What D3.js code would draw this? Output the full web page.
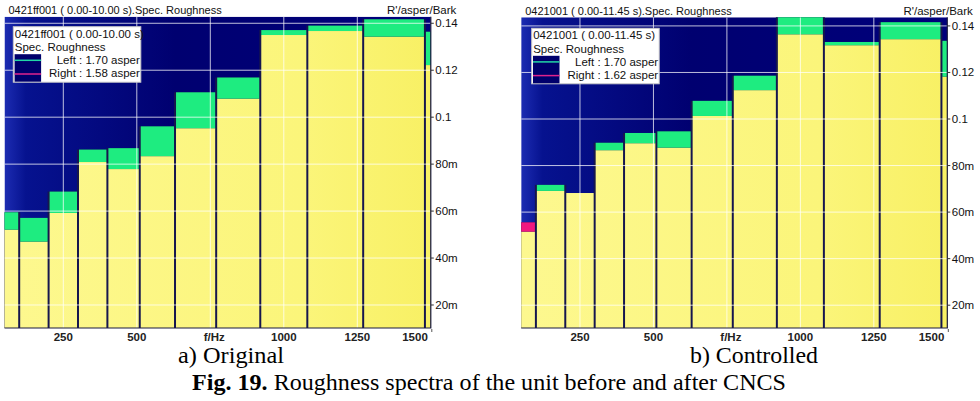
<!DOCTYPE html>
<html>
<head>
<meta charset="utf-8">
<script src="https://cdn.jsdelivr.net/npm/d3@7"></script>
<style>
  html, body { margin: 0; padding: 0; background: #fff; }
  svg { display: block; }
  .ui { font-family: "Liberation Sans", Arial, sans-serif; fill: #111; }
  .cap { font-family: "Liberation Serif", "Times New Roman", serif; fill: #000; }
</style>
</head>
<body>
<svg id="chart" width="980" height="401"></svg>
<script>
// Bark band edges (Hz) -- last band is clipped at 1500 Hz
const bandEdges = [0, 100, 200, 300, 400, 510, 630, 770, 920, 1080, 1270, 1480, 1720];

// specific roughness per band, asper/Bark
const originalLeft   = [0.0595, 0.0571, 0.0683, 0.0862, 0.0868, 0.0961, 0.1106, 0.1169, 0.1371, 0.1390, 0.1417, 0.1364];
const originalRight  = [0.0521, 0.0470, 0.0592, 0.0809, 0.0779, 0.0834, 0.0953, 0.1079, 0.1350, 0.1367, 0.1343, 0.1222];
const controlledLeft  = [0.0516, 0.0717, 0.0682, 0.0898, 0.0940, 0.0947, 0.1078, 0.1186, 0.1445, 0.1331, 0.1416, 0.1336];
const controlledRight = [0.0556, 0.0691, 0.0682, 0.0866, 0.0896, 0.0877, 0.1013, 0.1124, 0.1364, 0.1317, 0.1343, 0.1182];

const xTicks = [250, 500, 750, 1000, 1250, 1500];
const xTickLabels = ['250', '500', 'f/Hz', '1000', '1250', '1500'];
const yTicks = [0.02, 0.04, 0.06, 0.08, 0.10, 0.12, 0.14];
const yTickLabels = ['20m', '40m', '60m', '80m', '0.1', '0.12', '0.14'];

const COLORS = {
  green: '#1eec80',
  magenta: '#f2177f',
  sep: '#16164e',
  teal: '#22d6a6',
  pink: '#e0228c'
};

const panels = [
  { id: 'a', left: 4.5, right: 430.8, top: 16.7, bottom: 328, yMax: 0.1428,
    title: '0421ff001 ( 0.00-10.00 s).Spec. Roughness', file: '0421ff001 ( 0.00-10.00 s)',
    L: originalLeft, R: originalRight, totL: '1.70', totR: '1.58',
    legX: 13.3, legY: 26.7, caption: 'a) Original', capX: 231, capW: 106 },
  { id: 'b', left: 521.2, right: 947.3, top: 17.3, bottom: 328, yMax: 0.1437,
    title: '0421001 ( 0.00-11.45 s).Spec. Roughness', file: '0421001 ( 0.00-11.45 s)',
    L: controlledLeft, R: controlledRight, totL: '1.70', totR: '1.62',
    legX: 531.7, legY: 28.3, caption: 'b) Controlled', capX: 754, capW: 128 }
];

const svg = d3.select('#chart');
const defs = svg.append('defs');

const bg = defs.append('linearGradient').attr('id', 'navy').attr('x1', 0).attr('x2', 1).attr('y1', 0).attr('y2', 0);
bg.append('stop').attr('offset', '0%').attr('stop-color', '#1c2cb2');
bg.append('stop').attr('offset', '5%').attr('stop-color', '#06128f');
bg.append('stop').attr('offset', '40%').attr('stop-color', '#000070');
bg.append('stop').attr('offset', '100%').attr('stop-color', '#00007c');

panels.forEach(p => {
  const x = d3.scaleLinear().domain([50, 1500]).range([p.left, p.right]);
  const y = d3.scaleLinear().domain([0.0102, p.yMax]).range([p.bottom, p.top]);
  const g = svg.append('g');

  defs.append('clipPath').attr('id', 'clip-' + p.id)
    .append('rect')
    .attr('x', p.left).attr('y', p.top)
    .attr('width', p.right - p.left).attr('height', p.bottom - p.top);

  const yg = defs.append('linearGradient').attr('id', 'yel-' + p.id)
    .attr('gradientUnits', 'userSpaceOnUse')
    .attr('x1', p.left).attr('x2', p.right).attr('y1', 0).attr('y2', 0);
  yg.append('stop').attr('offset', '0%').attr('stop-color', '#fdf88f');
  yg.append('stop').attr('offset', '70%').attr('stop-color', '#fbf57a');
  yg.append('stop').attr('offset', '100%').attr('stop-color', '#f8f064');

  const plot = g.append('g').attr('clip-path', `url(#clip-${p.id})`);

  plot.append('rect')
    .attr('x', p.left).attr('y', p.top)
    .attr('width', p.right - p.left).attr('height', p.bottom - p.top)
    .attr('fill', 'url(#navy)');

  const bands = p.L.map((l, i) => ({
    f0: bandEdges[i], f1: bandEdges[i + 1], l, r: p.R[i]
  }));

  // dark band separators
  plot.selectAll('rect.sep')
    .data(bands)
    .join('rect')
    .attr('class', 'sep')
    .attr('x', d => x(d.f0) - 1)
    .attr('width', d => x(d.f1) - x(d.f0) + 2)
    .attr('y', d => y(Math.max(d.l, d.r)))
    .attr('height', d => p.bottom - y(Math.max(d.l, d.r)))
    .attr('fill', COLORS.sep);

  // part where both channels overlap
  plot.selectAll('rect.both')
    .data(bands)
    .join('rect')
    .attr('class', 'both')
    .attr('x', d => x(d.f0) + 1)
    .attr('width', d => x(d.f1) - x(d.f0) - 2)
    .attr('y', d => y(Math.min(d.l, d.r)))
    .attr('height', d => p.bottom - y(Math.min(d.l, d.r)))
    .attr('fill', `url(#yel-${p.id})`);

  // excess of one channel over the other
  plot.selectAll('rect.extra')
    .data(bands.filter(d => d.l !== d.r))
    .join('rect')
    .attr('class', 'extra')
    .attr('x', d => x(d.f0) + 1)
    .attr('width', d => x(d.f1) - x(d.f0) - 2)
    .attr('y', d => y(Math.max(d.l, d.r)))
    .attr('height', d => y(Math.min(d.l, d.r)) - y(Math.max(d.l, d.r)))
    .attr('fill', d => d.l > d.r ? COLORS.green : COLORS.magenta);

  // grid
  plot.selectAll('line.vg')
    .data(xTicks.slice(0, -1))
    .join('line')
    .attr('x1', d => x(d)).attr('x2', d => x(d))
    .attr('y1', p.top).attr('y2', p.bottom)
    .attr('stroke', '#fff').attr('stroke-opacity', 0.75);
  plot.selectAll('line.hg')
    .data(yTicks)
    .join('line')
    .attr('x1', p.left).attr('x2', p.right)
    .attr('y1', d => y(d)).attr('y2', d => y(d))
    .attr('stroke', '#fff').attr('stroke-opacity', 0.75);

  // frame (bottom + right)
  g.append('path')
    .attr('d', `M${p.left},${p.bottom}H${p.right}V${p.top}`)
    .attr('fill', 'none').attr('stroke', '#1a1a40').attr('stroke-width', 1.2);

  // y axis on the right
  const yt = g.selectAll('g.yt')
    .data(yTicks)
    .join('g')
    .attr('transform', d => `translate(${p.right},${y(d)})`);
  yt.append('line').attr('x1', 0).attr('x2', 3).attr('stroke', '#333');
  yt.append('text')
    .attr('class', 'ui')
    .attr('x', 4.5).attr('dy', '0.35em')
    .style('font-size', '11.5px')
    .text((d, i) => yTickLabels[i]);

  g.append('text')
    .attr('class', 'ui')
    .attr('x', p.right + 25.5).attr('y', p.top - 2.5)
    .attr('text-anchor', 'end')
    .style('font-size', '11.5px')
    .text("R'/asper/Bark");

  // x axis labels
  g.selectAll('text.xt')
    .data(xTicks)
    .join('text')
    .attr('class', 'ui xt')
    .attr('x', (d, i) => i === xTicks.length - 1 ? x(d) - 3 : x(d) + (i === 2 ? 4 : 0))
    .attr('y', p.bottom + 12.5)
    .attr('text-anchor', (d, i) => i === xTicks.length - 1 ? 'end' : 'middle')
    .style('font-size', '11.5px')
    .style('font-weight', 'bold')
    .style('fill', '#222')
    .text((d, i) => xTickLabels[i]);
  g.append('line')
    .attr('x1', p.right + 1).attr('x2', p.right + 1)
    .attr('y1', p.bottom + 1).attr('y2', p.bottom + 4)
    .attr('stroke', '#555');

  // title
  g.append('text')
    .attr('class', 'ui')
    .attr('x', p.left + 4).attr('y', p.top - 2.5)
    .style('font-size', '11px')
    .text(p.title);

  // legend box
  const lg = g.append('g').attr('transform', `translate(${p.legX},${p.legY})`);
  lg.append('rect')
    .attr('width', 127.5).attr('height', 55.5)
    .attr('fill', '#fff').attr('stroke', '#c8c8c8');
  lg.append('rect')
    .attr('x', 1.3).attr('y', 27.5).attr('width', 26.5).attr('height', 27.5)
    .attr('fill', '#00006c');
  lg.append('line')
    .attr('x1', 1.3).attr('x2', 27.8).attr('y1', 33.6).attr('y2', 33.6)
    .attr('stroke', COLORS.teal).attr('stroke-width', 1.5);
  lg.append('line')
    .attr('x1', 1.3).attr('x2', 27.8).attr('y1', 47.3).attr('y2', 47.3)
    .attr('stroke', COLORS.pink).attr('stroke-width', 1.5);
  const lt = [
    { t: p.file, x: 1.5, y: 11, a: 'start' },
    { t: 'Spec. Roughness', x: 1.5, y: 24.3, a: 'start' },
    { t: `Left : ${p.totL} asper`, x: 126.5, y: 37.8, a: 'end' },
    { t: `Right : ${p.totR} asper`, x: 126.5, y: 50.5, a: 'end' }
  ];
  lg.selectAll('text')
    .data(lt)
    .join('text')
    .attr('class', 'ui')
    .attr('x', d => d.x).attr('y', d => d.y)
    .attr('text-anchor', d => d.a)
    .style('font-size', '11.5px')
    .text(d => d.t);

  // caption under the panel
  svg.append('text')
    .attr('class', 'cap')
    .attr('x', p.capX).attr('y', 363)
    .attr('text-anchor', 'middle')
    .attr('textLength', p.capW)
    .attr('lengthAdjust', 'spacingAndGlyphs')
    .style('font-size', '23px')
    .text(p.caption);
});

const fig = svg.append('text')
  .attr('class', 'cap')
  .attr('x', 489).attr('y', 390)
  .attr('text-anchor', 'middle')
  .attr('textLength', 594)
  .attr('lengthAdjust', 'spacingAndGlyphs')
  .style('font-size', '23px');
fig.append('tspan').style('font-weight', 'bold').text('Fig. 19.');
fig.append('tspan').text(' Roughness spectra of the unit before and after CNCS');
</script>
</body>
</html>
